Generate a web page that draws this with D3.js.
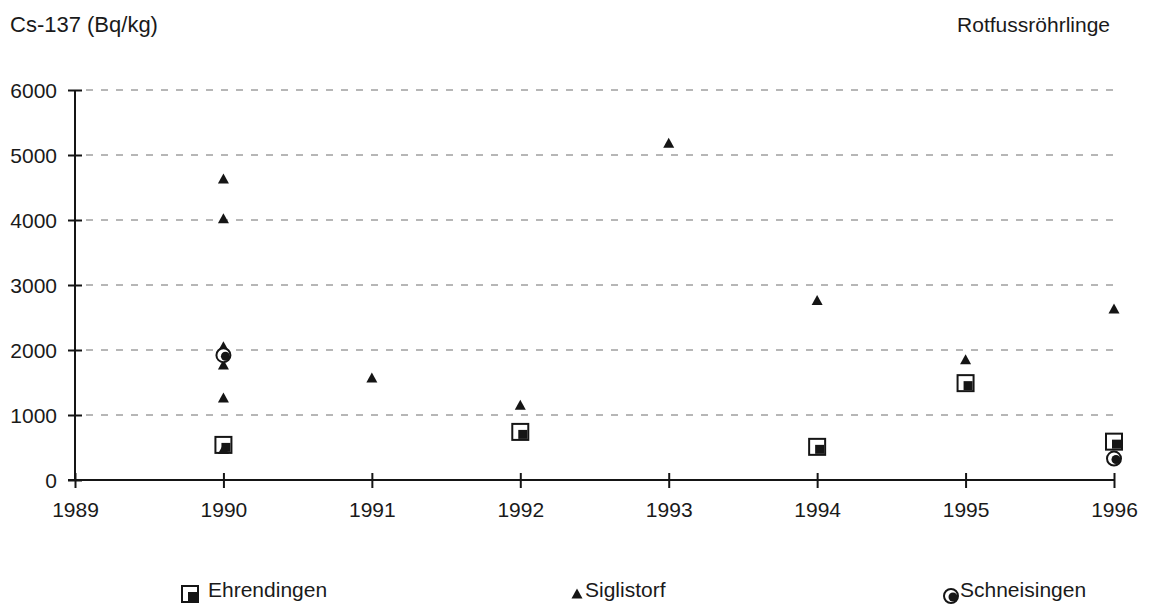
<!DOCTYPE html>
<html>
<head>
<meta charset="utf-8">
<script src="https://cdn.jsdelivr.net/npm/d3@7"></script>
<style>
  html, body { margin: 0; padding: 0; background: #fff; }
  svg { display: block; }
  text { font-family: "Liberation Sans", Arial, sans-serif; fill: #1a1a1a; }
</style>
</head>
<body>
<svg id="chart" width="1150" height="607"></svg>
<script>
// ---- data ----
const yTickValues = [0, 1000, 2000, 3000, 4000, 5000, 6000];
const xTickValues = [1989, 1990, 1991, 1992, 1993, 1994, 1995, 1996];

const ehrendingenYears = [1990, 1992, 1994, 1995, 1996];
const ehrendingenValues = [540, 740, 510, 1490, 590];

const siglistorfYears = [1990, 1990, 1990, 1990, 1990, 1990, 1991, 1992, 1993, 1994, 1995, 1996];
const siglistorfValues = [4630, 4020, 2050, 1770, 1260, 470, 1570, 1150, 5180, 2760, 1850, 2630];

const schneisingenYears = [1990, 1996];
const schneisingenValues = [1920, 330];

const seriesNames = ["Ehrendingen", "Siglistorf", "Schneisingen"];
const yTitle = "Cs-137 (Bq/kg)";
const chartTitle = "Rotfussröhrlinge";

// ---- layout ----
const svg = d3.select("#chart");
const x = d3.scaleLinear().domain([1989, 1996]).range([75, 1114]);
const y = d3.scaleLinear().domain([0, 6000]).range([480, 90]);
const ink = "#151515";

// gridlines
svg.append("g").selectAll("line")
  .data(yTickValues.filter(v => v > 0))
  .join("line")
  .attr("x1", 86).attr("x2", x(1996))
  .attr("y1", d => y(d)).attr("y2", d => y(d))
  .attr("stroke", "#6e6e6e").attr("stroke-width", 1)
  .attr("stroke-dasharray", "7,8");

// y axis
const yAxis = d3.axisLeft(y).tickValues(yTickValues).tickSize(7).tickPadding(11)
  .tickFormat(d3.format("d"));
const gy = svg.append("g").attr("transform", `translate(${x(1989)},0)`).call(yAxis);
gy.select(".domain").attr("stroke", ink).attr("stroke-width", 2).attr("d", `M0,${y(6000)}V${y(0)}`);
gy.selectAll(".tick line").attr("stroke", ink).attr("stroke-width", 2).attr("x1", 7).attr("x2", -7);
gy.selectAll(".tick text").attr("font-size", 21).attr("font-family", "Liberation Sans, Arial, sans-serif")
  .attr("fill", "#1a1a1a").attr("dy", "0.36em");

// x axis
const xAxis = d3.axisBottom(x).tickValues(xTickValues).tickSize(8).tickPadding(10)
  .tickFormat(d3.format("d"));
const gx = svg.append("g").attr("transform", `translate(0,${y(0)})`).call(xAxis);
gx.select(".domain").attr("stroke", ink).attr("stroke-width", 2).attr("d", `M${x(1989) - 7},0H${x(1996)}`);
gx.selectAll(".tick line").attr("stroke", ink).attr("stroke-width", 2).attr("y1", -7).attr("y2", 8);
gx.selectAll(".tick text").attr("font-size", 21).attr("font-family", "Liberation Sans, Arial, sans-serif")
  .attr("fill", "#1a1a1a").attr("dy", "0.9em");

// titles
svg.append("text").attr("x", 10).attr("y", 32).attr("font-size", 22).text(yTitle);
svg.append("text").attr("x", 1110).attr("y", 32).attr("font-size", 21).attr("text-anchor", "end").text(chartTitle);

// ---- marker drawers ----
function drawSquare(g, cx, cy) {
  g.append("rect").attr("x", cx - 8).attr("y", cy - 8).attr("width", 16).attr("height", 16)
    .attr("fill", "#fff").attr("stroke", ink).attr("stroke-width", 2);
  g.append("rect").attr("x", cx - 2).attr("y", cy - 2).attr("width", 9).attr("height", 9)
    .attr("fill", ink);
}
function drawTriangle(g, cx, cy) {
  g.append("path").attr("d", `M${cx},${cy - 5.5}L${cx + 5.5},${cy + 4.5}L${cx - 5.5},${cy + 4.5}Z`).attr("fill", ink);
}
function drawCircle(g, cx, cy) {
  g.append("circle").attr("cx", cx).attr("cy", cy).attr("r", 7)
    .attr("fill", "#fff").attr("stroke", ink).attr("stroke-width", 2);
  g.append("circle").attr("cx", cx + 2).attr("cy", cy + 1).attr("r", 4.5).attr("fill", ink);
}

// ---- points ----
const gE = svg.append("g");
ehrendingenYears.forEach((yr, i) => drawSquare(gE, x(yr), y(ehrendingenValues[i])));
const gS = svg.append("g");
siglistorfYears.forEach((yr, i) => drawTriangle(gS, x(yr), y(siglistorfValues[i])));
const gC = svg.append("g");
schneisingenYears.forEach((yr, i) => drawCircle(gC, x(yr), y(schneisingenValues[i])));

// ---- legend ----
const legendX = [190, 577, 951];
const legendY = 594;
const lg = svg.append("g");
drawSquare(lg, legendX[0], legendY);
drawTriangle(lg, legendX[1], legendY);
drawCircle(lg, legendX[2], legendY + 2);
const textOffsets = [18, 8, 9];
seriesNames.forEach((n, i) => {
  lg.append("text").attr("x", legendX[i] + textOffsets[i]).attr("y", 597).attr("font-size", 21).text(n);
});
</script>
</body>
</html>
